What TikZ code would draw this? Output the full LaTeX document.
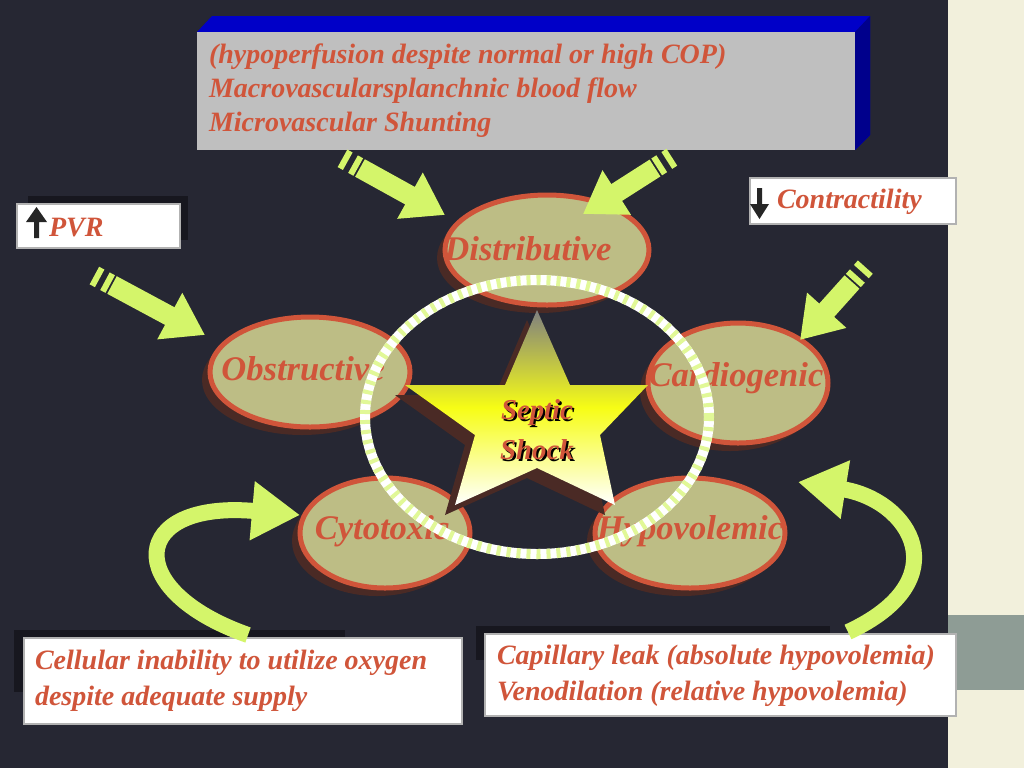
\documentclass[tikz,border=0pt]{standalone}
\usepackage{fontspec}
\setmainfont{Liberation Serif}
\usetikzlibrary{arrows.meta,calc}
\definecolor{bgdark}{HTML}{262733}
\definecolor{cream}{HTML}{F2F0DC}
\definecolor{slate}{HTML}{8E9C95}
\definecolor{olive}{HTML}{BDBD85}
\definecolor{brick}{HTML}{D0553A}
\definecolor{darkbrown}{HTML}{4A2A25}
\definecolor{lime}{HTML}{D4F56A}
\definecolor{boxblue}{HTML}{0000C8}
\tikzset{
  lbl/.style={font=\bfseries\itshape, text=brick},
  boxtext/.style={lbl, font=\fontsize{14}{18}\selectfont\bfseries\itshape},
  oval/.style={fill=olive, draw=brick, line width=2.5},
  ovalshadow/.style={fill=darkbrown},
  infobox/.style={fill=white, draw=gray!60, line width=1},
  boxshadow/.style={fill=black!40!bgdark},
  fatarrow/.style={draw=lime, line width=10, -{Triangle[width=25,length=20]}},
}
\begin{document}
\begin{tikzpicture}[x=0.5pt, y=-0.5pt]
  \useasboundingbox (0,0) rectangle (1024,768);

  % background
  \fill[bgdark] (0,0) rectangle (948,768);
  \fill[cream] (948,0) rectangle (1024,768);
  \fill[slate] (948,615) rectangle (1024,690);

  % top box with blue extrusion
  \fill[boxblue] (197,32) -- (212,16) -- (870,16) -- (870,135) -- (855,150) -- (855,32) -- cycle;
  \fill[boxblue!70!black] (855,32) -- (870,16) -- (870,135) -- (855,150) -- cycle;
  \fill[gray!50] (197,32) rectangle (855,150);
  \node[boxtext, anchor=west] (topA) at (202,57) {(hypoperfusion despite normal or high COP)};
  \node[boxtext, anchor=west] (topB) at (202,91) {Macrovascularsplanchnic blood flow};
  \node[boxtext, anchor=west] (topC) at (202,125) {Microvascular Shunting};

  % small boxes
  \fill[boxshadow] (28,196) rectangle (188,240);
  \fill[infobox] (17,204) rectangle (180,248);
  \fill[black!85] (34,238) rectangle (39,222) (26,222) -- (36.5,207) -- (47,222) -- cycle;
  \node[boxtext, anchor=west] (pvr) at (42,228) {PVR};

  \fill[infobox] (750,178) rectangle (956,224);
  \fill[black!85] (757,188) rectangle (762,204) (750,204) -- (759.5,219) -- (769,204) -- cycle;
  \node[boxtext, anchor=west] (contr) at (770,202) {Contractility};

  \fill[boxshadow] (14,630) rectangle (345,692);
  \fill[infobox] (24,638) rectangle (462,724);
  \node[boxtext, anchor=west, align=left] (cell) at (28,681)
    {Cellular inability to utilize oxygen\\ despite adequate supply};
  \fill[boxshadow] (476,626) rectangle (830,660);
  \fill[infobox] (485,634) rectangle (956,716);
  \node[boxtext, anchor=west, align=left] (cap) at (490,676)
    {Capillary leak (absolute hypovolemia)\\Venodilation (relative hypovolemia)};

  % ovals
  \foreach \cx/\cy/\rx/\ry in {547/250/102/55, 310/372/100/55, 738/383/90/60, 385/533/85/55, 690/533/95/55}
    \fill[ovalshadow] (\cx-8,\cy+8) ellipse[x radius=\rx, y radius=\ry];
  \draw[oval] (547,250) ellipse[x radius=102, y radius=55];
  \draw[oval] (310,372) ellipse[x radius=100, y radius=55];
  \draw[oval] (738,383) ellipse[x radius=90, y radius=60];
  \draw[oval] (385,533) ellipse[x radius=85, y radius=55];
  \draw[oval] (690,533) ellipse[x radius=95, y radius=55];

  % star
  \fill[darkbrown] (527,320) -- (560,395) -- (638,395) -- (590,445) -- (605,515) -- (527,478) -- (445,515) -- (465,445) -- (395,395) -- (495,395) -- cycle;
  \shade[inner color=orange!80!red, outer color=lime, middle color=yellow!80!lime]
    (537,310) -- (570,385) -- (648,385) -- (600,435) -- (615,505) -- (537,468) -- (455,505) -- (475,435) -- (405,385) -- (505,385) -- cycle;

  % labels
  \node[lbl, font=\LARGE\bfseries\itshape] (distr) at (528,249) {Distributive};
  \node[lbl, font=\LARGE\bfseries\itshape] (obstr) at (303,369) {Obstructive};
  \node[lbl, font=\LARGE\bfseries\itshape] (cardio) at (736,378) {Cardiogenic};
  \node[lbl, font=\LARGE\bfseries\itshape] (cyto) at (382,531) {Cytotoxic};
  \node[lbl, font=\LARGE\bfseries\itshape] (hypo) at (690,531) {Hypovolemic};
  \node[font=\Large\bfseries\itshape, text=black, align=center, inner sep=0] at (539,432) {Septic\\[2pt]Shock};
  \node[lbl, font=\Large\bfseries\itshape, align=center, inner sep=0] (septic) at (537,430) {Septic\\[2pt]Shock};

  % striped ring
  \draw[white, line width=5] (537,417) ellipse[x radius=172, y radius=137];
  \draw[lime!70, line width=5, dash pattern=on 2 off 3] (537,417) ellipse[x radius=172, y radius=137];

  % straight arrows with striped tails
  \foreach \ax/\ay/\bx/\by in {360/168/445/215, 655/168/583/214, 112/285/205/335, 852/282/800/340}{
    \draw[fatarrow] (\ax,\ay) -- (\bx,\by);
    \draw[lime, line width=10, dash pattern=on 3 off 3]
      ($(\ax,\ay)!-10pt!(\bx,\by)$) -- (\ax,\ay);
  }

  % curved arrows
  \draw[fatarrow, line width=8, -{Triangle[width=28,length=24]}] (248,635) .. controls (120,590) and (130,500) .. (300,515);
  \draw[fatarrow, line width=8, -{Triangle[width=28,length=24]}] (848,632) .. controls (960,580) and (910,500) .. (798,482);
\end{tikzpicture}
\end{document}
